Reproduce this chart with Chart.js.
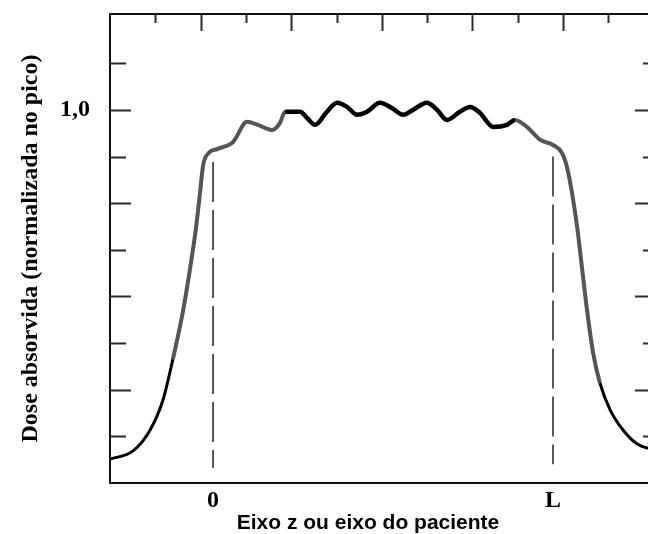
<!DOCTYPE html>
<html>
<head>
<meta charset="utf-8">
<script src="https://cdn.jsdelivr.net/npm/chart.js@4.4.0/dist/chart.umd.min.js"></script>
<style>
    html, body { margin: 0; padding: 0; background: #fff; overflow: hidden; }
    #wrap { width: 648px; height: 534px; overflow: hidden; }
</style>
</head>
<body>
<div id="wrap"><canvas id="dose" width="680" height="534"></canvas></div>
<script>
// Dose profile along the patient axis (0 .. L), normalised to the peak
const curveX = [
    -0.303, -0.235, -0.185, -0.147, -0.118, -0.088, -0.068, -0.050, -0.038, -0.029,
    -0.012, 0.012, 0.059, 0.100, 0.132, 0.174, 0.197, 0.212, 0.256, 0.276,
    0.300, 0.335, 0.365, 0.394, 0.424, 0.453, 0.491, 0.526, 0.559, 0.588,
    0.629, 0.659, 0.688, 0.726, 0.756, 0.785, 0.824, 0.865, 0.888, 0.924,
    0.962, 1.000, 1.026, 1.041, 1.056, 1.071, 1.085, 1.100, 1.118, 1.138,
    1.168, 1.206, 1.247, 1.300
];
const curveY = [
    0.064, 0.086, 0.142, 0.223, 0.332, 0.462, 0.572, 0.684, 0.780, 0.852,
    0.885, 0.895, 0.914, 0.968, 0.960, 0.946, 0.965, 0.995, 0.995, 0.979,
    0.960, 0.995, 1.019, 1.008, 0.987, 0.995, 1.019, 1.005, 0.987, 1.000,
    1.019, 1.000, 0.973, 0.995, 1.008, 0.992, 0.954, 0.960, 0.973, 0.954,
    0.920, 0.906, 0.885, 0.847, 0.777, 0.686, 0.579, 0.464, 0.349, 0.268,
    0.196, 0.142, 0.105, 0.088
];

// dashed markers at z = 0 and z = L (top, bottom)
const markerZero = [0.86, 0.04];
const markerL = [0.875, 0.05];

const xTickValues = [0, 1];
const xTickLabels = ['0', 'L'];
const yLabelValue = 1.0;
const yLabelText = '1,0';
const yStep = 0.125;

const X_MIN = -0.303, X_MAX = 1.30;
const Y_MIN = 0, Y_MAX = 1.257;
const TOP_MAX = 12.03;   // top frame tick count range

const yTitle = 'Dose absorvida (normalizada no pico)';
const xTitle = 'Eixo z ou eixo do paciente';

const SERIF = '"Liberation Serif", "Times New Roman", serif';
const SANS = '"Liberation Sans", Arial, sans-serif';

// inward tick marks on the frame + x axis title
const frameTicks = {
    id: 'frameTicks',
    afterDraw(chart) {
        const { ctx, chartArea, scales } = chart;
        ctx.save();
        ctx.strokeStyle = '#2a2a2a';
        ctx.lineWidth = 2;
        ctx.beginPath();
        scales.y.ticks.forEach(t => {
            const k = Math.round(t.value / yStep);
            if (Math.abs(k * yStep - t.value) > 1e-6 || k <= 0 || t.value >= Y_MAX) return;
            const py = Math.round(scales.y.getPixelForValue(t.value)) + 0.5;
            const lenL = k % 2 === 0 ? 21 : 16;
            const lenR = k % 2 === 0 ? 20 : 12;
            ctx.moveTo(chartArea.left, py);
            ctx.lineTo(chartArea.left + lenL, py);
            ctx.moveTo(chartArea.right, py);
            ctx.lineTo(chartArea.right - lenR, py);
        });
        scales.xTop.ticks.forEach(t => {
            if (t.value <= 0 || t.value >= TOP_MAX) return;
            const px = Math.round(scales.xTop.getPixelForValue(t.value)) + 0.5;
            const len = t.value % 2 === 0 ? 17 : 9;
            ctx.moveTo(px, chartArea.top);
            ctx.lineTo(px, chartArea.top + len);
        });
        ctx.stroke();

        ctx.fillStyle = '#000';
        ctx.font = 'bold 21px ' + SANS;
        ctx.textAlign = 'center';
        ctx.textBaseline = 'middle';
        ctx.fillText(xTitle, 368, 523);
        ctx.restore();
    }
};

function segColor(c) {
    const y = Math.min(c.p0.parsed.y, c.p1.parsed.y);
    const x = c.p0.parsed.x;
    if (y < 0.25) return '#000';
    if (x > 0.2 && x < 0.87) return '#000';
    return '#555';
}

function segWidth(c) {
    const y = Math.min(c.p0.parsed.y, c.p1.parsed.y);
    const x = c.p0.parsed.x;
    if (y < 0.25) return 3;
    if (x > 0.2 && x < 0.87) return 4.5;
    return 4;
}

new Chart(document.getElementById('dose'), {
    type: 'line',
    data: {
        datasets: [
            {
                label: 'dose',
                data: curveX.map((x, i) => ({ x: x, y: curveY[i] })),
                borderColor: '#000',
                borderWidth: 4,
                pointRadius: 0,
                cubicInterpolationMode: 'monotone',
                segment: { borderColor: segColor, borderWidth: segWidth }
            },
            {
                label: 'zero',
                data: markerZero.map(y => ({ x: 0, y: y })),
                borderColor: '#222',
                borderWidth: 1.5,
                borderDash: [40, 8],
                pointRadius: 0
            },
            {
                label: 'L',
                data: markerL.map(y => ({ x: 1, y: y })),
                borderColor: '#222',
                borderWidth: 1.5,
                borderDash: [40, 8],
                pointRadius: 0
            }
        ]
    },
    options: {
        responsive: false,
        animation: false,
        layout: { padding: { left: 0, top: 14, right: 25, bottom: 21 } },
        plugins: {
            legend: { display: false },
            tooltip: { enabled: false }
        },
        scales: {
            x: {
                type: 'linear',
                position: 'bottom',
                min: X_MIN,
                max: X_MAX,
                afterBuildTicks: s => { s.ticks = xTickValues.map(v => ({ value: v })); },
                afterFit: s => { s.height = 30; s.paddingLeft = 0; s.paddingRight = 0; },
                ticks: {
                    autoSkip: false,
                    maxRotation: 0,
                    padding: 3,
                    color: '#000',
                    font: { family: SERIF, size: 24, weight: 'bold' },
                    callback: v => xTickLabels[xTickValues.indexOf(v)] ?? ''
                },
                grid: { drawOnChartArea: false, drawTicks: false },
                border: { color: '#111', width: 2 }
            },
            xTop: {
                type: 'linear',
                position: 'top',
                min: 0,
                max: TOP_MAX,
                afterFit: s => { s.height = 0; s.paddingLeft = 0; s.paddingRight = 0; },
                ticks: { display: false, stepSize: 1 },
                grid: { drawOnChartArea: false, drawTicks: false },
                border: { color: '#111', width: 2 }
            },
            y: {
                type: 'linear',
                position: 'left',
                min: Y_MIN,
                max: Y_MAX,
                afterFit: s => { s.width = 110; s.paddingTop = 0; s.paddingBottom = 0; },
                ticks: {
                    stepSize: yStep,
                    autoSkip: false,
                    padding: 20,
                    color: '#000',
                    font: { family: SERIF, size: 24, weight: 'bold' },
                    callback: v => Math.abs(v - yLabelValue) < 1e-6 ? yLabelText : ''
                },
                title: {
                    display: true,
                    text: yTitle,
                    color: '#000',
                    font: { family: SERIF, size: 24, weight: 'bold' },
                    padding: { top: 16, bottom: 0 }
                },
                grid: { drawOnChartArea: false, drawTicks: false },
                border: { color: '#111', width: 2 }
            }
        }
    },
    plugins: [frameTicks]
});
</script>
</body>
</html>
